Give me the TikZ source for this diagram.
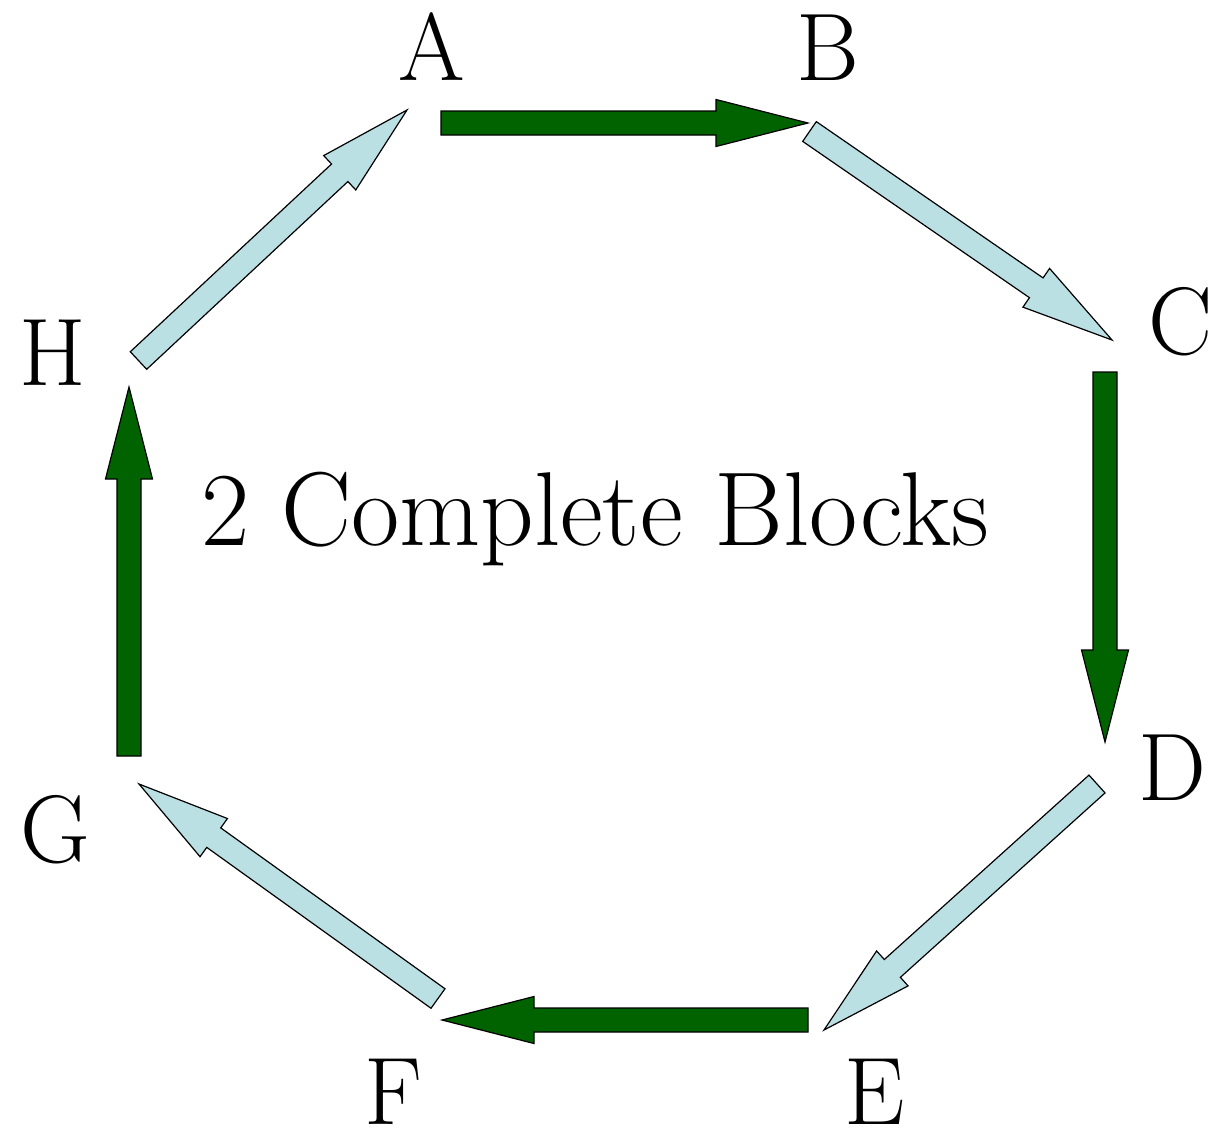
\documentclass[tikz,border=0pt]{standalone}
\usetikzlibrary{calc}
\definecolor{dkgreen}{RGB}{0,99,0}
\definecolor{ltblue}{RGB}{187,224,227}
\tikzset{
  greenarrow/.style={fill=dkgreen,draw=black,line width=1.2pt,line join=miter},
  bluearrow/.style={fill=ltblue,draw=black,line width=1.2pt,line join=miter},
  lbl/.style={anchor=base,inner sep=0pt,font=\fontsize{96}{100}\selectfont}
}
\newcommand\blockarrow[3]{%
  \path ($(#2)!92pt!(#1)$) coordinate (m-#1);
  \draw[#3] ($(#1)!12pt!90:(#2)$) -- ($(m-#1)!12pt!90:(#2)$) -- ($(m-#1)!23.5pt!90:(#2)$)
    -- (#2) -- ($(m-#1)!23.5pt!-90:(#2)$) -- ($(m-#1)!12pt!-90:(#2)$) -- ($(#1)!12pt!-90:(#2)$) -- cycle;
}
\begin{document}
\begin{tikzpicture}[x=1pt,y=-1pt]
\useasboundingbox (0,0) rectangle (1218,1138);
% labels
\node[lbl] (A) at (432,80) {A};
\node[lbl] (B) at (828,80) {B};
\node[lbl] (C) at (1181,354) {C};
\node[lbl] (D) at (1172,800) {D};
\node[lbl] (E) at (875,1124) {E};
\node[lbl] (F) at (393,1124) {F};
\node[lbl] (G) at (55,862) {G};
\node[lbl] (H) at (53,385) {H};
\node[lbl,font=\fontsize{105}{110}\selectfont] (title) at (595,545) {2 Complete Blocks};
% arrow end points
\coordinate (ab1) at (441,123);   \coordinate (ab2) at (808,123);
\coordinate (bc1) at (809.5,131.5); \coordinate (bc2) at (1112,340);
\coordinate (cd1) at (1105,372);  \coordinate (cd2) at (1105,742);
\coordinate (de1) at (1097,784);  \coordinate (de2) at (824,1030);
\coordinate (ef1) at (808,1020);  \coordinate (ef2) at (442,1020);
\coordinate (fg1) at (438,998.5); \coordinate (fg2) at (139,784);
\coordinate (gh1) at (129,756);   \coordinate (gh2) at (129,387);
\coordinate (ha1) at (138.5,360.5); \coordinate (ha2) at (407,110);
\blockarrow{ab1}{ab2}{greenarrow}
\blockarrow{bc1}{bc2}{bluearrow}
\blockarrow{cd1}{cd2}{greenarrow}
\blockarrow{de1}{de2}{bluearrow}
\blockarrow{ef1}{ef2}{greenarrow}
\blockarrow{fg1}{fg2}{bluearrow}
\blockarrow{gh1}{gh2}{greenarrow}
\blockarrow{ha1}{ha2}{bluearrow}
\end{tikzpicture}
\end{document}
